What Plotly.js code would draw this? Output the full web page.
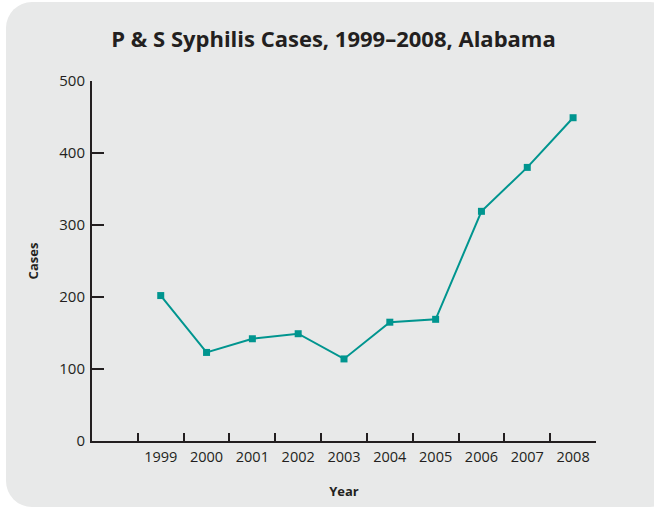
<!DOCTYPE html>
<html><head><meta charset="utf-8">
<script src="https://cdn.plot.ly/plotly-3.0.1.min.js"></script>
<style>
html,body{margin:0;padding:0;background:#fff;width:654px;height:508px;overflow:hidden;}
#bg{position:absolute;left:6px;top:2px;width:670px;height:505px;background:#e8e9e9;border-radius:26px;}
#chart{position:absolute;left:0;top:0;width:654px;height:508px;}
</style></head>
<body>
<div id="bg"></div>
<div id="chart"></div>
<script>
const years = [1999, 2000, 2001, 2002, 2003, 2004, 2005, 2006, 2007, 2008];
const cases = [202, 123, 142, 149, 114, 165, 169, 319, 380, 449];
const yearLabels = ['1999','2000','2001','2002','2003','2004','2005','2006','2007','2008'];
const tickBounds = [1998.5, 1999.5, 2000.5, 2001.5, 2002.5, 2003.5, 2004.5, 2005.5, 2006.5, 2007.5, 2008.5];
const yTicks = [0, 100, 200, 300, 400, 500];

const ink = '#231f20';
const teal = '#00958f';
const font = 'Open Sans, sans-serif';

const trace = {
  x: years, y: cases, type: 'scatter', mode: 'lines+markers',
  line: {color: teal, width: 2},
  marker: {symbol: 'square', size: 7, color: teal},
  cliponaxis: false, hoverinfo: 'skip'
};
const labelTrace = {x: years, y: cases, xaxis: 'x2', type: 'scatter', mode: 'none', hoverinfo: 'skip', showlegend: false};

const layout = {
  width: 654, height: 508,
  paper_bgcolor: 'rgba(0,0,0,0)', plot_bgcolor: 'rgba(0,0,0,0)',
  margin: {l: 92, r: 58, t: 81, b: 67},
  showlegend: false,
  font: {family: font, color: ink, size: 14},
  title: {text: '<b>P & S Syphilis Cases, 1999–2008, Alabama</b>', x: 0.51, xanchor: 'center', y: 0.922, yanchor: 'middle',
          font: {family: font, size: 22, color: ink}},
  xaxis: {
    range: [1997.5, 2008.5], tickmode: 'array', tickvals: tickBounds, ticktext: tickBounds.map(() => ''),
    ticks: 'inside', ticklen: 8, tickwidth: 2, tickcolor: ink,
    showline: true, linecolor: ink, linewidth: 2, showgrid: false, zeroline: false,
    title: {text: '<b>Year</b>', font: {size: 13, color: ink}, standoff: 42}
  },
  xaxis2: {
    overlaying: 'x', side: 'bottom', matches: 'x', range: [1997.5, 2008.5],
    tickmode: 'array', tickvals: years, ticktext: yearLabels, ticks: '', ticklabelstandoff: 5,
    showline: false, showgrid: false, zeroline: false, tickfont: {size: 14.5, color: ink}
  },
  yaxis: {
    range: [0, 500], tickmode: 'array', tickvals: yTicks, ticks: 'inside', ticklen: 12, tickwidth: 2, tickcolor: ink,
    showline: true, linecolor: ink, linewidth: 2, showgrid: false, zeroline: false,
    tickfont: {size: 15, color: ink}, ticklabelstandoff: 2,
    title: {text: '<b>Cases</b>', font: {size: 13, color: ink}, standoff: 18}
  }
};
Plotly.newPlot('chart', [trace, labelTrace], layout, {staticPlot: true});
</script>
</body></html>
